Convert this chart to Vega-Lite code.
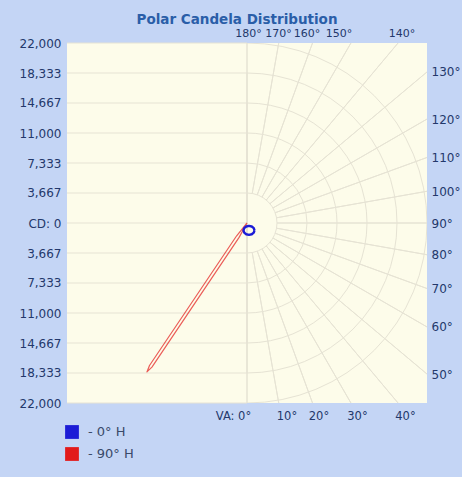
{
  "$schema": "https://vega.github.io/schema/vega-lite/v6.json",
  "width": 360,
  "height": 360,
  "autosize": {"type": "none"},
  "padding": {"left": 67, "top": 43, "right": 35, "bottom": 74},
  "background": "#c4d5f5",
  "config": {
    "view": {"stroke": null},
    "font": "DejaVu Sans",
    "axis": {"labelFont": "DejaVu Sans", "labelFontSize": 12, "labelColor": "#23386b", "domain": false, "ticks": false, "grid": false, "title": null, "labelOverlap": false, "labelFlush": false, "labelBound": false}
  },
  "title": {"text": "Polar Candela Distribution", "fontSize": 13.5, "fontWeight": "bold", "color": "#2a5ea8", "font": "DejaVu Sans", "dx": -10, "offset": 1},
  "resolve": {"axis": {"x": "independent", "y": "independent"}},
  "datasets": {
    "hlines": [
      {"cd": -22000}, {"cd": -18333}, {"cd": -14667}, {"cd": -11000}, {"cd": -7333}, {"cd": -3667}, {"cd": 0},
      {"cd": 3667}, {"cd": 7333}, {"cd": 11000}, {"cd": 14667}, {"cd": 18333}, {"cd": 22000}
    ],
    "rings": [{"cd": 3667}, {"cd": 7333}, {"cd": 11000}, {"cd": 14667}, {"cd": 18333}, {"cd": 22000}],
    "spokes": [
      {"va": 10}, {"va": 20}, {"va": 30}, {"va": 40}, {"va": 50}, {"va": 60}, {"va": 70}, {"va": 80},
      {"va": 90}, {"va": 100}, {"va": 110}, {"va": 120}, {"va": 130}, {"va": 140}, {"va": 150}, {"va": 160}, {"va": 170}
    ],
    "red": [
      {"i": 0, "x": 0, "y": 0, "series": "90° H"},
      {"i": 1, "x": -966, "y": -1760, "series": "90° H"},
      {"i": 2, "x": -11618, "y": -17613, "series": "90° H"},
      {"i": 3, "x": -12230, "y": -18202, "series": "90° H"},
      {"i": 4, "x": -11916, "y": -17413, "series": "90° H"},
      {"i": 5, "x": -1264, "y": -1560, "series": "90° H"},
      {"i": 6, "x": 0, "y": 0, "series": "90° H"}
    ],
    "blue": [
      {"i": 0, "x": 916, "y": -900, "series": "0° H"},
      {"i": 1, "x": 826, "y": -625, "series": "0° H"},
      {"i": 2, "x": 580, "y": -424, "series": "0° H"},
      {"i": 3, "x": 244, "y": -350, "series": "0° H"},
      {"i": 4, "x": -92, "y": -424, "series": "0° H"},
      {"i": 5, "x": -338, "y": -625, "series": "0° H"},
      {"i": 6, "x": -428, "y": -900, "series": "0° H"},
      {"i": 7, "x": -338, "y": -1175, "series": "0° H"},
      {"i": 8, "x": -92, "y": -1376, "series": "0° H"},
      {"i": 9, "x": 244, "y": -1450, "series": "0° H"},
      {"i": 10, "x": 580, "y": -1376, "series": "0° H"},
      {"i": 11, "x": 826, "y": -1175, "series": "0° H"},
      {"i": 12, "x": 916, "y": -900, "series": "0° H"}
    ]
  },
  "layer": [
    {
      "data": {"values": [{}]},
      "mark": {"type": "rect", "fill": "#fdfcea"},
      "encoding": {
        "x": {"datum": -22000, "type": "quantitative", "scale": {"domain": [-22000, 22000], "nice": false, "zero": false}, "axis": null},
        "x2": {"datum": 22000},
        "y": {"datum": -22000, "type": "quantitative", "scale": {"domain": [-22000, 22000], "nice": false, "zero": false}, "axis": null},
        "y2": {"datum": 22000}
      }
    },
    {
      "data": {"name": "hlines"},
      "mark": {"type": "rule", "stroke": "#e6e3d4", "strokeWidth": 1},
      "encoding": {
        "y": {"field": "cd", "type": "quantitative",
          "axis": {"orient": "left", "values": [-22000, -18333, -14667, -11000, -7333, -3667, 0, 3667, 7333, 11000, 14667, 18333, 22000],
            "labelExpr": "datum.value == 0 ? 'CD: 0' : format(abs(datum.value), ',')", "labelPadding": 6}},
        "x": {"datum": -22000, "type": "quantitative",
          "axis": {"orient": "bottom", "values": [-1711, 4827, 8737, 13442, 19308],
            "labelExpr": "datum.value < 0 ? 'VA: 0°' : datum.value < 6000 ? '10°' : datum.value < 11000 ? '20°' : datum.value < 16000 ? '30°' : '40°'", "labelPadding": 7, "labelFontSize": 11.5}},
        "x2": {"datum": 0}
      }
    },
    {
      "data": {"values": [{}]},
      "mark": {"type": "rule", "stroke": "#e6e3d4", "strokeWidth": 1},
      "encoding": {
        "x": {"datum": 0, "type": "quantitative",
          "axis": {"orient": "top", "values": [122, 3788, 7271, 11181, 18880],
            "labelExpr": "datum.value < 2000 ? '180°' : datum.value < 5000 ? '170°' : datum.value < 9000 ? '160°' : datum.value < 15000 ? '150°' : '140°'", "labelPadding": 5, "labelFontSize": 11}},
        "y": {"datum": -22000, "type": "quantitative",
          "axis": {"orient": "right", "values": [-18460, -12702, -8007, -3879, 0, 3879, 8007, 12702, 18460],
            "labelExpr": "round(90 + atan(datum.value / 22000) * 180 / PI) + '°'", "labelPadding": 4}},
        "y2": {"datum": 22000}
      }
    },
    {
      "data": {"name": "rings"},
      "mark": {"type": "arc", "theta": 0, "theta2": 3.14159265, "fillOpacity": 0, "stroke": "#e6e3d4", "strokeWidth": 1, "clip": true},
      "encoding": {
        "radius": {"field": "cd", "type": "quantitative", "stack": null, "scale": {"type": "linear", "domain": [0, 22000], "range": [0, 180], "zero": true}}
      }
    },
    {
      "data": {"name": "spokes"},
      "mark": {"type": "arc", "fillOpacity": 0, "stroke": "#e6e3d4", "strokeWidth": 1, "clip": true},
      "encoding": {
        "theta": {"field": "va", "type": "quantitative", "stack": null, "scale": {"domain": [0, 180], "range": [3.14159265, 0]}},
        "theta2": {"field": "va"},
        "radius": {"datum": 3667, "type": "quantitative", "stack": null, "scale": {"type": "linear", "domain": [0, 22000], "range": [0, 180], "zero": true}},
        "radius2": {"datum": 40000}
      }
    },
    {
      "data": {"name": "red"},
      "mark": {"type": "line", "strokeWidth": 1.2, "opacity": 0.7, "strokeJoin": "round"},
      "encoding": {
        "x": {"field": "x", "type": "quantitative", "axis": null},
        "y": {"field": "y", "type": "quantitative", "axis": null},
        "order": {"field": "i"},
        "color": {"field": "series", "type": "nominal",
          "scale": {"domain": ["0° H", "90° H"], "range": ["#1c1cd6", "#e21a1a"]},
          "legend": {"title": null, "orient": "none", "legendX": -2, "legendY": 382, "symbolType": "square", "symbolSize": 190, "symbolStrokeWidth": 0, "symbolOpacity": 1,
            "labelExpr": "'- ' + datum.label", "labelFontSize": 13, "labelColor": "#3a4a6a", "rowPadding": 8, "labelOffset": 9,
            "encode": {"symbols": {"update": {"fill": {"scale": "color", "field": "value"}, "strokeWidth": {"value": 0}, "opacity": {"value": 1}}}}}}
      }
    },
    {
      "data": {"name": "blue"},
      "mark": {"type": "line", "strokeWidth": 2.4, "strokeJoin": "round"},
      "encoding": {
        "x": {"field": "x", "type": "quantitative", "axis": null},
        "y": {"field": "y", "type": "quantitative", "axis": null},
        "order": {"field": "i"},
        "color": {"field": "series", "type": "nominal"}
      }
    }
  ]
}
